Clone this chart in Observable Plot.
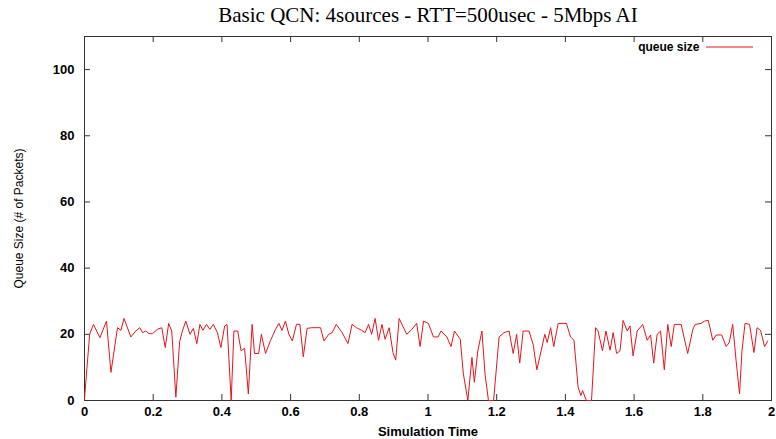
<!DOCTYPE html>
<html>
<head>
<meta charset="utf-8">
<script src="https://cdn.jsdelivr.net/npm/d3@7"></script>
<script src="https://cdn.jsdelivr.net/npm/@observablehq/plot@0.6"></script>
<style>
  html, body { margin: 0; padding: 0; background: #fff; }
</style>
</head>
<body>
<div id="chart"></div>
<script>
const titleText = "Basic QCN: 4sources - RTT=500usec - 5Mbps AI";
const xLabel = "Simulation Time";
const yLabel = "Queue Size (# of Packets)";
const legendLabel = "queue size";
const xTicks = [0, 0.2, 0.4, 0.6, 0.8, 1, 1.2, 1.4, 1.6, 1.8, 2];
const yTicks = [0, 20, 40, 60, 80, 100];

const time = [
  0.000, 0.015, 0.026, 0.045, 0.064, 0.077, 0.096, 0.106, 0.115, 0.135,
  0.149, 0.161, 0.169, 0.178, 0.188, 0.198, 0.212, 0.225, 0.235, 0.245,
  0.254, 0.266, 0.277, 0.285, 0.295, 0.307, 0.317, 0.327, 0.336, 0.345,
  0.355, 0.365, 0.375, 0.387, 0.397, 0.408, 0.415, 0.427, 0.435, 0.446,
  0.456, 0.466, 0.477, 0.488, 0.495, 0.507, 0.515, 0.527, 0.541, 0.556,
  0.566, 0.575, 0.585, 0.595, 0.605, 0.617, 0.627, 0.637, 0.648, 0.662,
  0.677, 0.687, 0.697, 0.711, 0.721, 0.733, 0.750, 0.767, 0.779, 0.792,
  0.807, 0.817, 0.827, 0.836, 0.846, 0.856, 0.866, 0.875, 0.887, 0.898,
  0.906, 0.916, 0.938, 0.953, 0.967, 0.977, 0.987, 1.001, 1.016, 1.029,
  1.038, 1.055, 1.067, 1.077, 1.094, 1.103, 1.116, 1.128, 1.135, 1.145,
  1.157, 1.166, 1.176, 1.191, 1.207, 1.221, 1.236, 1.248, 1.258, 1.267,
  1.277, 1.294, 1.306, 1.317, 1.325, 1.340, 1.347, 1.357, 1.366, 1.379,
  1.403, 1.415, 1.425, 1.437, 1.445, 1.450, 1.461, 1.476, 1.488, 1.495,
  1.508, 1.518, 1.530, 1.539, 1.549, 1.559, 1.568, 1.580, 1.588, 1.597,
  1.609, 1.625, 1.638, 1.648, 1.657, 1.667, 1.677, 1.688, 1.698, 1.708,
  1.717, 1.737, 1.756, 1.771, 1.778, 1.795, 1.805, 1.816, 1.829, 1.839,
  1.855, 1.868, 1.877, 1.887, 1.897, 1.907, 1.914, 1.923, 1.936, 1.949,
  1.958, 1.968, 1.980, 1.989
];
const queueSize = [
  0.5, 20, 23, 19, 24, 8.5, 22, 21.2, 24.8, 19.2,
  21, 22, 20.5, 21, 20.2, 20.2, 21.5, 22, 16, 23.3,
  21, 1, 17.8, 21, 24, 20, 21.8, 17.2, 23, 21.2,
  23, 21.5, 23, 20.5, 16, 22.5, 23, 0, 21, 21,
  15, 15.8, 2, 23, 14.2, 14.2, 20, 14.2, 18, 21.5,
  23.3, 21.2, 24, 20, 18, 23, 23, 13.2, 21.8, 22,
  22, 22, 18, 20, 20.5, 23, 20.5, 17.2, 23, 22,
  21.2, 20.5, 23, 20, 24.8, 18.2, 23, 18.5, 22, 14.5,
  12.2, 24.8, 20, 21.5, 23.3, 16.3, 24, 23.3, 19.2, 19.2,
  21, 19.2, 16.3, 21, 18.5, 8, 0, 13, 5.5, 15,
  21, 8, 0, 0, 19.2, 20.5, 21, 14.2, 20, 11.3,
  21, 21, 17, 9.3, 13, 20, 17.5, 22, 16.3, 23.3,
  23.3, 19.2, 18.2, 4, 1.5, 3, 0, 0, 22, 21,
  15, 21, 15.2, 20.5, 14.2, 15, 24.2, 21, 22.5, 13.5,
  21, 23, 18.2, 19.8, 11.3, 20, 21, 9.3, 23, 16.3,
  23, 23, 14.2, 21.5, 23, 23.3, 24, 24.2, 18.2, 19.8,
  19.8, 16.3, 17.5, 23, 12, 2, 15, 23.3, 23, 14.5,
  22, 21.2, 16.3, 18
];

const series = time.map((t, i) => ({t, q: queueSize[i]}));
const lineColor = "#e8141c";
const axisColor = "#333";
const sans = "'Liberation Sans', Arial, Helvetica, sans-serif";

// legend sample line drawn relative to the frame
function legendLine(index, scales, values, dim) {
  const x2 = dim.width - dim.marginRight - 18;
  const x1 = x2 - 47;
  const y = dim.marginTop + 11;
  const l = document.createElementNS("http://www.w3.org/2000/svg", "line");
  l.setAttribute("x1", x1); l.setAttribute("x2", x2);
  l.setAttribute("y1", y); l.setAttribute("y2", y);
  l.setAttribute("stroke", lineColor);
  l.setAttribute("stroke-width", 1);
  return l;
}

const chart = Plot.plot({
  width: 776,
  height: 439,
  marginLeft: 84,
  marginRight: 5,
  marginTop: 36,
  marginBottom: 39,
  style: {fontFamily: sans, background: "#fff", color: "#000"},
  x: {domain: [0, 2]},
  y: {domain: [0, 110]},
  marks: [
    Plot.frame({stroke: axisColor}),
    Plot.tickX(xTicks, {x: d => d, insetTop: 358, stroke: axisColor}),
    Plot.tickX(xTicks, {x: d => d, insetBottom: 358, stroke: axisColor}),
    Plot.tickY(yTicks, {y: d => d, insetRight: 681, stroke: axisColor}),
    Plot.tickY(yTicks, {y: d => d, insetLeft: 681, stroke: axisColor}),
    Plot.axisX(xTicks, {tickSize: 0, tickPadding: 6, fontSize: 13, fontWeight: "bold", label: null, tickFormat: d => String(d), fill: "#000"}),
    Plot.axisY(yTicks, {tickSize: 0, tickPadding: 10, fontSize: 13, fontWeight: "bold", label: null, fill: "#000"}),
    Plot.line(series, {x: "t", y: "q", stroke: lineColor, strokeWidth: 1}),
    Plot.text([titleText], {text: d => d, frameAnchor: "top", dy: -15, lineAnchor: "bottom", fontFamily: "'Liberation Serif', 'Times New Roman', serif", fontSize: 21, fill: "#000"}),
    Plot.text([xLabel], {text: d => d, frameAnchor: "bottom", dy: 35, lineAnchor: "bottom", fontSize: 13, fontWeight: "bold", fill: "#000"}),
    Plot.text([yLabel], {text: d => d, frameAnchor: "left", dx: -65, rotate: -90, textAnchor: "middle", lineAnchor: "middle", fontSize: 12, fill: "#000"}),
    Plot.text([legendLabel], {text: d => d, frameAnchor: "top-right", dx: -72, dy: 11, textAnchor: "end", lineAnchor: "middle", fontSize: 12, fontWeight: "bold", fill: "#000"}),
    legendLine
  ]
});
document.getElementById("chart").appendChild(chart);
</script>
</body>
</html>
